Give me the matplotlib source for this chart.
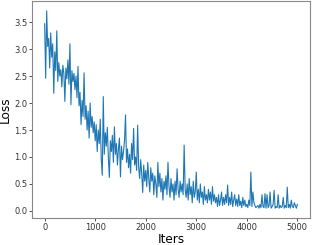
import numpy as np
import matplotlib
matplotlib.use("Agg")
import matplotlib.pyplot as plt

iters = list(range(0, 5001, 20))
loss = [
    3.47, 2.46, 3.71, 3.05, 3.20, 2.65, 3.30, 2.85, 3.10, 2.18,
    2.95, 2.60, 3.34, 2.40, 2.75, 2.50, 2.62, 2.30, 2.70, 2.55,
    2.03, 2.65, 2.45, 2.80, 2.35, 3.10, 1.97, 2.60, 2.40, 2.55,
    2.25, 2.50, 2.10, 2.68, 1.95, 2.20, 1.60, 2.05, 1.75, 2.56,
    1.70, 1.95, 1.50, 1.85, 1.35, 2.00, 1.55, 1.75, 1.45, 1.65,
    1.30, 1.60, 1.10, 1.50, 1.25, 1.70, 0.95, 0.66, 2.12, 1.05,
    1.45, 1.20, 1.55, 1.00, 0.62, 1.30, 1.10, 1.40, 0.90, 1.56,
    1.05, 1.25, 0.85, 1.15, 1.35, 0.63, 1.20, 0.95, 1.10, 1.30,
    1.78, 0.90, 1.15, 0.80, 1.05, 0.70, 1.25, 0.95, 1.53, 0.85,
    1.00, 0.75, 1.59, 0.80, 0.60, 0.95, 0.70, 0.34, 0.85, 0.55,
    0.75, 0.45, 0.90, 0.60, 0.35, 0.80, 0.55, 0.70, 0.30, 0.65,
    0.50, 0.25, 0.90, 0.45, 0.70, 0.35, 0.60, 0.20, 0.55, 0.40,
    0.65, 0.30, 0.90, 0.45, 0.25, 0.60, 0.35, 0.50, 0.20, 0.55,
    0.30, 0.78, 0.40, 0.25, 0.55, 0.35, 0.50, 0.30, 1.22, 0.40,
    0.25, 0.50, 0.20, 0.60, 0.30, 0.45, 0.15, 0.55, 0.25, 0.35,
    0.72, 0.20, 0.40, 0.15, 0.50, 0.25, 0.35, 0.12, 0.45, 0.20,
    0.30, 0.15, 0.40, 0.20, 0.35, 0.12, 0.45, 0.18, 0.30, 0.15,
    0.25, 0.08, 0.30, 0.10, 0.20, 0.35, 0.10, 0.25, 0.12, 0.30,
    0.15, 0.48, 0.10, 0.25, 0.12, 0.35, 0.08, 0.20, 0.30, 0.10,
    0.22, 0.08, 0.30, 0.10, 0.18, 0.06, 0.25, 0.10, 0.20, 0.08,
    0.12, 0.06, 0.20, 0.10, 0.72, 0.08, 0.35, 0.15, 0.10, 0.06,
    0.08, 0.10, 0.05, 0.12, 0.06, 0.30, 0.08, 0.06, 0.32, 0.05,
    0.30, 0.06, 0.10, 0.35, 0.05, 0.08, 0.12, 0.38, 0.05, 0.08,
    0.06, 0.30, 0.05, 0.10, 0.06, 0.08, 0.25, 0.05, 0.10, 0.06,
    0.44, 0.06, 0.12, 0.05, 0.20, 0.08, 0.06, 0.15, 0.10, 0.05,
    0.12,
]

fig = plt.figure(figsize=(3.12, 2.45), dpi=100)
ax = fig.add_axes([0.1026, 0.110, 0.891, 0.886])
ax.plot(iters, loss, color="#1f77b4", lw=0.8)
ax.set_xlabel("Iters", fontsize=8.7, labelpad=0.5)
ax.set_ylabel("Loss", fontsize=8.7, labelpad=1.2)
ax.tick_params(labelsize=6, length=2, width=0.6, pad=1.5, colors="#333333")
ax.set_yticks(np.arange(0, 3.6, 0.5))
for s in ax.spines.values():
    s.set_color("#888888")
    s.set_linewidth(0.8)
fig.savefig("out.png", dpi=100)
